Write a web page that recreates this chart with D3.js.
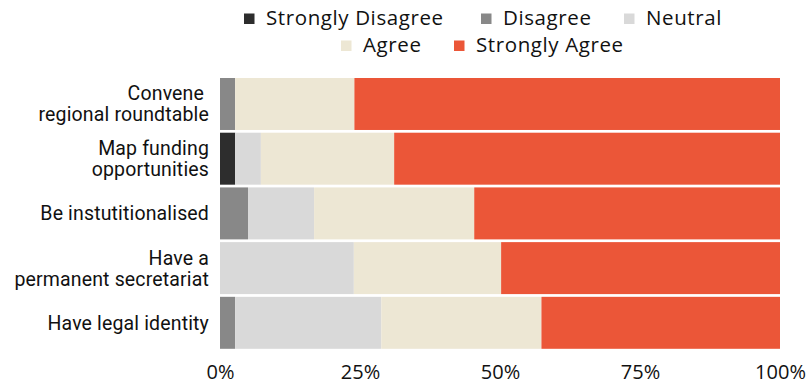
<!DOCTYPE html>
<html>
<head>
<meta charset="utf-8">
<script src="https://cdn.jsdelivr.net/npm/d3@7"></script>
<style>
  html, body { margin: 0; padding: 0; background: #ffffff; }
  svg { display: block; }
</style>
</head>
<body>
<svg id="chart" width="812" height="385"></svg>
<script>
// ---- Data ----
const categories = [
  "Convene \nregional roundtable",
  "Map funding\nopportunities",
  "Be instutitionalised",
  "Have a\npermanent secretariat",
  "Have legal identity"
];
const seriesNames = ["Strongly Disagree", "Disagree", "Neutral", "Agree", "Strongly Agree"];
const stronglyDisagree = [0, 2.7, 0, 0, 0];
const disagree         = [2.7, 0, 5.0, 0, 2.7];
const neutral          = [0, 4.6, 11.8, 23.9, 26.1];
const agree            = [21.3, 23.8, 28.6, 26.3, 28.6];
const stronglyAgree    = [76.0, 68.9, 54.6, 49.8, 42.6];
const tickValues = [0, 25, 50, 75, 100];
const tickLabels = ["0%", "25%", "50%", "75%", "100%"];

const colors = ["#2d2d2d", "#888888", "#d9d9d9", "#ede7d4", "#eb5638"];

// ---- Build table ----
const seriesValues = [stronglyDisagree, disagree, neutral, agree, stronglyAgree];
const table = categories.map((c, i) => {
  const row = { category: c };
  seriesNames.forEach((s, j) => { row[s] = seriesValues[j][i]; });
  return row;
});
const stacked = d3.stack().keys(seriesNames)(table);

const svg = d3.select("#chart");

const x = d3.scaleLinear().domain([0, 100]).range([220, 780]);
const y = d3.scaleBand().domain(categories).range([78, 348.8]).paddingInner(0.05).paddingOuter(0);
const color = d3.scaleOrdinal().domain(seriesNames).range(colors);

// ---- Bars ----
svg.append("g")
  .selectAll("g")
  .data(stacked)
  .join("g")
  .attr("fill", d => color(d.key))
  .selectAll("rect")
  .data(d => d)
  .join("rect")
  .attr("x", d => x(d[0]))
  .attr("y", d => y(d.data.category))
  .attr("width", d => Math.max(0, x(d[1]) - x(d[0])))
  .attr("height", y.bandwidth());

// ---- Y axis (multi-line labels) ----
const yAxis = svg.append("g")
  .attr("transform", "translate(220,0)")
  .call(d3.axisLeft(y).tickSize(0).tickPadding(11).tickFormat(() => ""));
yAxis.select(".domain").remove();
yAxis.selectAll(".tick text").each(function(d) {
  const t = d3.select(this);
  const lines = d.split("\n");
  const lh = 21;
  t.text(null)
    .attr("dy", null)
    .attr("y", 0)
    .attr("x", -11)
    .attr("text-anchor", "end")
    .attr("fill", "#111111")
    .style("font-family", "Roboto, sans-serif")
    .style("font-size", "19.5px")
    .style("letter-spacing", "0.15px")
    .attr("xml:space", "preserve")
    .style("white-space", "pre");
  const first = 7 - (lines.length - 1) * lh / 2;
  lines.forEach((ln, i) => {
    t.append("tspan")
      .attr("x", -11)
      .attr("y", first + i * lh)
      .style("white-space", "pre")
      .text(ln);
  });
});

// ---- X axis ----
const xAxis = svg.append("g")
  .attr("transform", "translate(0,349)")
  .call(d3.axisBottom(x).tickValues(tickValues).tickSize(0)
        .tickFormat((d, i) => tickLabels[i]));
xAxis.select(".domain").remove();
xAxis.selectAll(".tick text")
  .attr("dy", null)
  .attr("y", 30)
  .attr("fill", "#111111")
  .style("font-family", "'Open Sans', sans-serif")
  .style("font-size", "20px");

// ---- Legend ----
const legendRows = [
  [{ key: seriesNames[0], tx: 266 }, { key: seriesNames[1], tx: 503 }, { key: seriesNames[2], tx: 646 }],
  [{ key: seriesNames[3], tx: 363 }, { key: seriesNames[4], tx: 476 }]
];
const legendBaselines = [25, 52];
const legend = svg.append("g");
legendRows.forEach((row, r) => {
  row.forEach(item => {
    const g = legend.append("g");
    g.append("rect")
      .attr("x", item.tx - 22)
      .attr("y", legendBaselines[r] - 11.5)
      .attr("width", 10.5)
      .attr("height", 10.5)
      .attr("fill", color(item.key));
    g.append("text")
      .attr("x", item.tx)
      .attr("y", legendBaselines[r])
      .attr("fill", "#111111")
      .style("font-family", "'Open Sans', sans-serif")
      .style("font-size", "20.5px")
      .style("letter-spacing", "0.6px")
      .text(item.key);
  });
});
</script>
</body>
</html>
